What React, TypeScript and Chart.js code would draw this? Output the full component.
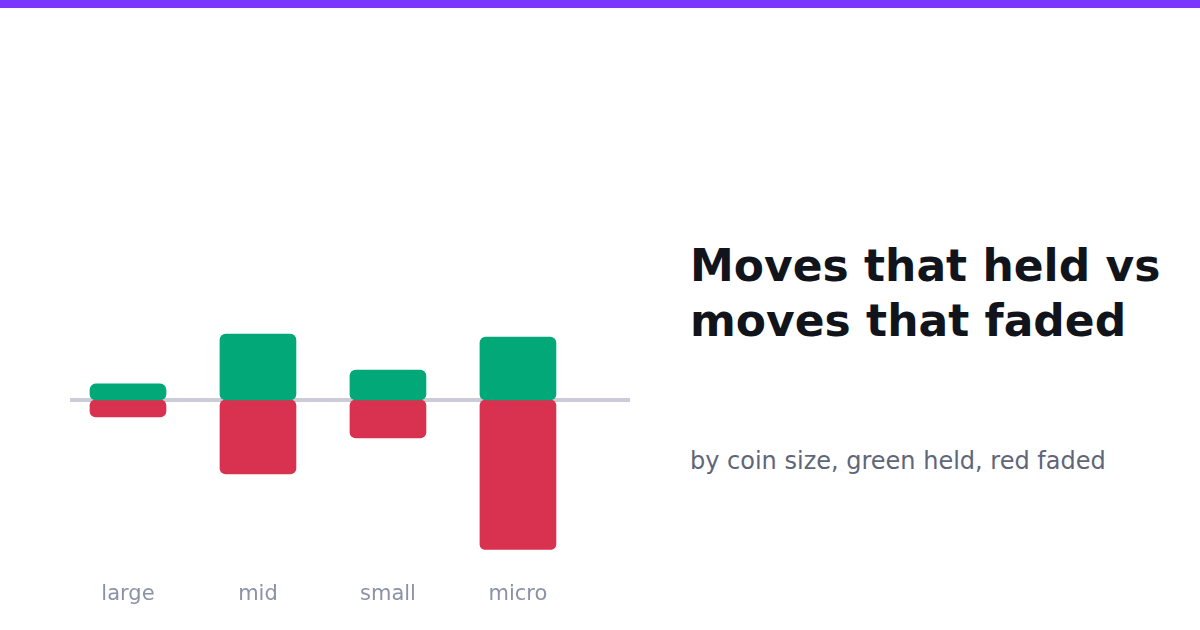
import React, { useEffect, useRef } from 'react';
import { Chart, registerables } from 'chart.js';

Chart.register(...registerables);

// coin size buckets
const categories = ['large', 'mid', 'small', 'micro'];
// moves that held (green, above the line)
const heldValues = [16, 66, 30, 63];
// moves that faded (red, below the line)
const fadedValues = [-17, -74, -38, -150];

const GREEN = '#02a878';
const RED = '#d93250';
const FONT = '"DejaVu Sans", sans-serif';

const zeroLine = {
  id: 'zeroLine',
  beforeDatasetsDraw(chart: any) {
    const { ctx, chartArea, scales } = chart;
    const y = scales.y.getPixelForValue(0);
    ctx.save();
    ctx.strokeStyle = '#cbccd8';
    ctx.lineWidth = 4;
    ctx.beginPath();
    ctx.moveTo(chartArea.left, y);
    ctx.lineTo(chartArea.right, y);
    ctx.stroke();
    ctx.restore();
  },
};

const HeldFadedChart = () => {
  const chartRef = useRef<HTMLCanvasElement | null>(null);
  const myChartRef = useRef<Chart | null>(null);

  useEffect(() => {
    if (myChartRef.current) {
      myChartRef.current.destroy();
    }

    const radius = { topLeft: 6, topRight: 6, bottomLeft: 6, bottomRight: 6 };

    const data = {
      datasets: [
        {
          label: 'held',
          data: heldValues.map((v, i) => ({ x: i, y: v })),
          backgroundColor: GREEN,
          borderRadius: radius,
          borderSkipped: false,
          barThickness: 76,
        },
        {
          label: 'faded',
          data: fadedValues.map((v, i) => ({ x: i, y: v })),
          backgroundColor: RED,
          borderRadius: radius,
          borderSkipped: false,
          barThickness: 76,
        },
      ],
    };

    const options: any = {
      responsive: false,
      animation: false,
      layout: { padding: { left: 70, right: 20, top: 330, bottom: 0 } },
      plugins: {
        legend: { display: false },
        tooltip: { enabled: false },
      },
      scales: {
        x: {
          type: 'linear',
          stacked: true,
          offset: false,
          min: -0.446,
          max: 3.862,
          grid: { display: false, drawTicks: false },
          border: { display: false },
          afterBuildTicks: (scale: any) => {
            scale.ticks = categories.map((_, i) => ({ value: i }));
          },
          ticks: {
            padding: 32,
            maxRotation: 0,
            autoSkip: false,
            color: '#8b92a8',
            font: { family: FONT, size: 21 },
            callback: (value: any) => categories[value] ?? '',
          },
        },
        y: {
          stacked: true,
          display: false,
          min: -150,
          max: 70,
        },
      },
    };

    if (chartRef.current) {
      myChartRef.current = new Chart(chartRef.current, {
        type: 'bar',
        data: data,
        options: options,
        plugins: [zeroLine],
      });
    }

    return () => {
      if (myChartRef.current) {
        myChartRef.current.destroy();
      }
    };
  }, []);

  // the x axis reserves twice its tick padding below the plot, so the canvas runs a little past the page bottom
  return <canvas ref={chartRef} width={650} height={639} style={{ position: 'absolute', left: 0, top: 0 }} />;
};

export default function App() {
  return (
    <div
      style={{
        position: 'fixed',
        left: 0,
        top: 0,
        width: 1200,
        height: 630,
        background: '#ffffff',
        overflow: 'hidden',
        fontFamily: FONT,
      }}
    >
      <div style={{ position: 'absolute', left: 0, top: 0, width: 1200, height: 8, background: '#7b38fd' }} />
      <HeldFadedChart />
      <div
        style={{
          position: 'absolute',
          left: 690,
          top: 238,
          width: 500,
          fontSize: 44,
          lineHeight: '55px',
          fontWeight: 'bold',
          color: '#12141b',
        }}
      >
        Moves that held vs
        <br />
        moves that faded
      </div>
      <div
        style={{
          position: 'absolute',
          left: 690,
          top: 447,
          fontSize: 24,
          lineHeight: 1.2,
          color: '#5f6679',
          whiteSpace: 'nowrap',
        }}
      >
        by coin size, green held, red faded
      </div>
    </div>
  );
}
